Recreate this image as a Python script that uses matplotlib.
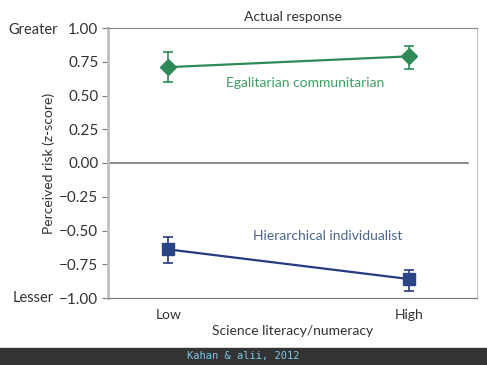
import numpy as np
import matplotlib.pyplot as plt

plt.rcParams['font.family'] = ['Lato', 'DejaVu Sans']

levels = ["Low", "High"]
egal = [0.71, 0.79]
egal_lo = [0.60, 0.70]
egal_hi = [0.82, 0.87]
hier = [-0.64, -0.86]
hier_lo = [-0.74, -0.95]
hier_hi = [-0.55, -0.79]
yticks = [1.00, 0.75, 0.50, 0.25, 0.00, -0.25, -0.50, -0.75, -1.00]

green = "#2e8b57"
navy = "#283a80"

fig = plt.figure(figsize=(4.87, 3.65), dpi=100)
ax = fig.add_axes([108 / 487, 67 / 365, 369 / 487, 270 / 365])
x = np.arange(len(levels))

ax.errorbar(x, egal, yerr=[np.subtract(egal, egal_lo), np.subtract(egal_hi, egal)],
            color=green, marker="D", markersize=8, lw=1.6, capsize=3.5, elinewidth=1.2, capthick=1.2)
ax.errorbar(x, hier, yerr=[np.subtract(hier, hier_lo), np.subtract(hier_hi, hier)],
            color=navy, marker="s", markersize=9, lw=1.6, capsize=3.5, elinewidth=1.2, capthick=1.2,
            mfc="#2a4585", mec="#2a4585")

ax.axhline(0, xmin=0, xmax=0.975, color="#777777", lw=1.2)
ax.set_xlim(-0.25, 1.28)
ax.set_ylim(-1.0, 1.0)
ax.set_yticks(yticks)
ax.set_yticklabels([f"{v:.2f}".replace("-", "\u2212") for v in yticks], fontsize=11, color="#333333")
ax.set_xticks(x)
ax.set_xticklabels(levels, fontsize=10, color="#333333")
ax.tick_params(axis="x", length=0, pad=8)
ax.tick_params(axis="y", length=4, color="#777777", pad=3)

for s in ["left", "right"]:
    ax.spines[s].set_color("#c0c0c0")
ax.spines["left"].set_linewidth(2)
ax.spines["top"].set_color("#888888")
ax.spines["bottom"].set_color("#777777")

ax.set_title("Actual response", fontsize=10, color="#333333", pad=5)
ax.set_xlabel("Science literacy/numeracy", fontsize=10, color="#333333", labelpad=3)
ax.set_ylabel("Perceived risk (z-score)", fontsize=10, color="#333333", labelpad=3)

ax.text(0.567, 0.59, "Egalitarian communitarian", color="#3f9f64", fontsize=10, ha="center", va="center")
ax.text(0.66, -0.54, "Hierarchical individualist", color="#4a6690", fontsize=10, ha="center", va="center")

fig.text(33 / 487, 1 - 30 / 365, "Greater", fontsize=10.5, color="#333333", ha="center", va="center")
fig.text(33 / 487, 1 - 298 / 365, "Lesser", fontsize=10.5, color="#333333", ha="center", va="center")

fig.patches.append(plt.Rectangle((0, 0), 1, 17 / 365, transform=fig.transFigure, color="#333333"))
fig.text(0.5, 8.5 / 365, "Kahan & alii, 2012", fontsize=7.5, color="#7ec8ea", ha="center", va="center",
         family="DejaVu Sans Mono")

fig.savefig("out.png", dpi=100)
